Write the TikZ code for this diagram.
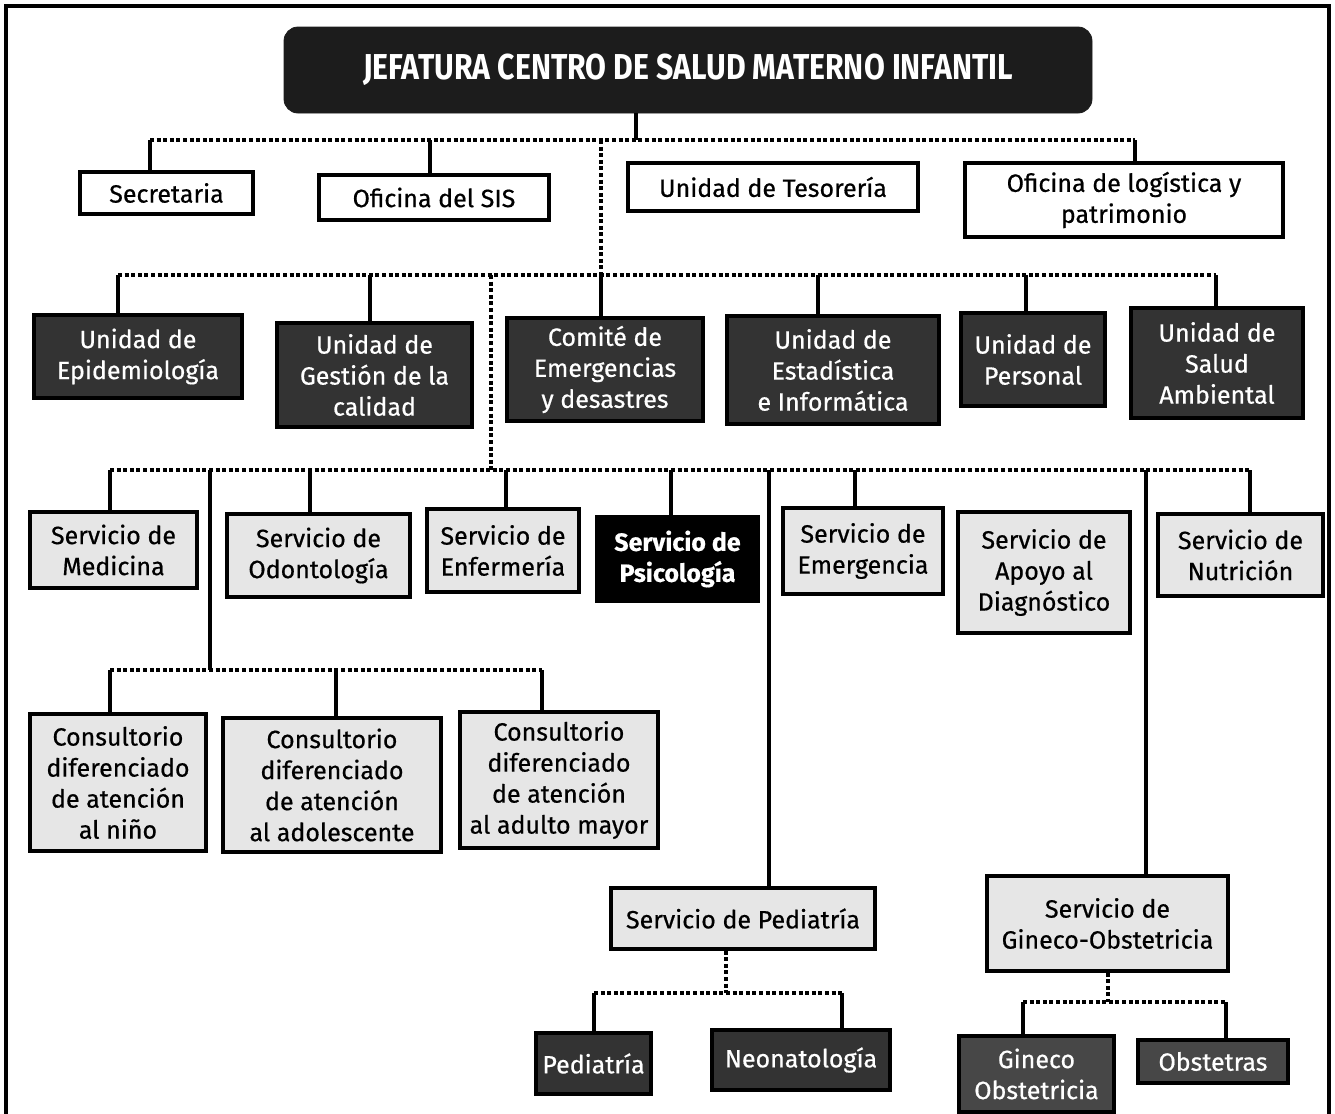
\documentclass[tikz,border=0pt]{standalone}
\usepackage{fontspec}
\setmainfont[FakeBold=0.6]{Fira Sans}
\newfontfamily\titlefont[FakeStretch=0.84]{Fira Sans Bold}
\definecolor{darkbox}{HTML}{333333}
\definecolor{darkbox2}{HTML}{474747}
\definecolor{titlebox}{HTML}{1C1C1C}
\definecolor{lightbox}{HTML}{E6E6E6}
\tikzset{
  base/.style={draw=black, line width=1.6pt, align=center, inner sep=0pt, font=\fontsize{12.5}{15.5}\selectfont},
  whitebox/.style={base, fill=white},
  darkb/.style={base, fill=darkbox, text=white},
  darkc/.style={base, fill=darkbox2, text=white},
  lightb/.style={base, fill=lightbox},
  blackb/.style={base, fill=black, text=white, font=\fontsize{12.5}{15.5}\selectfont\bfseries},
  titleb/.style={fill=titlebox, draw=titlebox, rounded corners=7pt, text=white, inner sep=0pt, font=\titlefont\fontsize{18}{20}\selectfont},
  conn/.style={line width=2pt},
  dotc/.style={line width=2pt, dash pattern=on 2pt off 1.3pt},
}
\newcommand\bx[7]{\node[#6, minimum width={(#4-#2)*0.5pt}, minimum height={(#5-#3)*0.5pt}] (#1) at ({(#2+#4)/2},{(#3+#5)/2}) {#7};}
\begin{document}
\begin{tikzpicture}[x=0.5pt,y=-0.5pt]
\useasboundingbox (0,0) rectangle (1335,1114);
\draw[line width=2pt] (6,1116) -- (6,6) -- (1329,6) -- (1329,1116);
% title
\bx{jef}{284}{27}{1092}{113}{titleb}{JEFATURA CENTRO DE SALUD MATERNO INFANTIL}
% row 1
\bx{secr}{80}{172}{253}{214}{whitebox}{Secretaria}
\bx{sis}{319}{175}{549}{220}{whitebox}{Oficina del SIS}
\bx{tes}{628}{163}{918}{211}{whitebox}{Unidad de Tesorería}
\bx{log}{965}{163}{1283}{237}{whitebox}{Oficina de logística y\\patrimonio}
% row 2
\bx{epi}{34}{315}{242}{398}{darkb}{Unidad de\\Epidemiología}
\bx{cal}{277}{323}{472}{427}{darkb}{Unidad de\\Gestión de la\\calidad}
\bx{com}{507}{318}{703}{421}{darkb}{Comité de\\Emergencias\\y desastres}
\bx{est}{727}{316}{939}{424}{darkb}{Unidad de\\Estadística\\e Informática}
\bx{per}{961}{313}{1105}{406}{darkb}{Unidad de\\Personal}
\bx{amb}{1131}{308}{1303}{418}{darkb}{Unidad de\\Salud\\Ambiental}
% row 3
\bx{med}{30}{512}{197}{588}{lightb}{Servicio de\\Medicina}
\bx{odo}{227}{514}{410}{597}{lightb}{Servicio de\\Odontología}
\bx{enf}{427}{509}{579}{592}{lightb}{Servicio de\\Enfermería}
\bx{psi}{597}{517}{758}{601}{blackb}{Servicio de\\Psicología}
\bx{eme}{783}{508}{943}{594}{lightb}{Servicio de\\Emergencia}
\bx{apo}{958}{512}{1130}{633}{lightb}{Servicio de\\Apoyo al\\Diagnóstico}
\bx{nut}{1158}{514}{1323}{596}{lightb}{Servicio de\\Nutrición}
% consultorios
\bx{nin}{30}{714}{206}{851}{lightb}{Consultorio\\diferenciado\\de atención\\al niño}
\bx{ado}{223}{718}{441}{852}{lightb}{Consultorio\\diferenciado\\de atención\\al adolescente}
\bx{adu}{460}{712}{658}{848}{lightb}{Consultorio\\diferenciado\\de atención\\al adulto mayor}
% pediatria
\bx{ped}{611}{888}{875}{949}{lightb}{Servicio de Pediatría}
\bx{pedi}{536}{1033}{651}{1094}{darkb}{Pediatría}
\bx{neo}{712}{1030}{890}{1090}{darkb}{Neonatología}
% gineco
\bx{gin}{987}{876}{1228}{971}{lightb}{Servicio de\\Gineco-Obstetricia}
\bx{gino}{959}{1036}{1114}{1112}{darkc}{Gineco\\Obstetricia}
\bx{obs}{1138}{1040}{1288}{1083}{darkc}{Obstetras}

% bus level 1
\coordinate (a0) at (636,140);
\coordinate (a1) at (150,140);
\coordinate (a2) at (430,140);
\coordinate (a3) at (601,140);
\coordinate (a4) at (1135,140);
\draw[conn] (jef.south -| a0) -- (a0);
\draw[dotc] (a1) -- (a4);
\draw[conn] (a1) -- (secr.north -| a1);
\draw[conn] (a2) -- (sis.north -| a2);
\draw[conn] (a4) -- (log.north -| a4);
% bus level 2
\coordinate (b0) at (601,275);
\coordinate (b1) at (118,275);
\coordinate (b2) at (370,275);
\coordinate (b3) at (818,275);
\coordinate (b4) at (1026,275);
\coordinate (b5) at (1216,275);
\coordinate (b6) at (491,275);
\draw[dotc] (a3) -- (b0);
\draw[dotc] (b1) -- (b5);
\draw[conn] (b1) -- (epi.north -| b1);
\draw[conn] (b2) -- (cal.north -| b2);
\draw[conn] (b0) -- (com.north -| b0);
\draw[conn] (b3) -- (est.north -| b3);
\draw[conn] (b4) -- (per.north -| b4);
\draw[conn] (b5) -- (amb.north -| b5);
% bus level 3
\coordinate (c0) at (491,470);
\coordinate (c1) at (110,470);
\coordinate (c2) at (210,470);
\coordinate (c3) at (310,470);
\coordinate (c4) at (506,470);
\coordinate (c5) at (671,470);
\coordinate (c6) at (769,470);
\coordinate (c7) at (855,470);
\coordinate (c8) at (1146,470);
\coordinate (c9) at (1250,470);
\draw[dotc] (b6) -- (c0);
\draw[dotc] (c1) -- (c9);
\draw[conn] (c1) -- (med.north -| c1);
\draw[conn] (c3) -- (odo.north -| c3);
\draw[conn] (c4) -- (enf.north -| c4);
\draw[conn] (c5) -- (psi.north -| c5);
\draw[conn] (c7) -- (eme.north -| c7);
\draw[conn] (c9) -- (nut.north -| c9);
\draw[conn] (c6) -- (ped.north -| c6);
\draw[conn] (c8) -- (gin.north -| c8);
% consultorios bus
\coordinate (d0) at (210,670);
\coordinate (d1) at (110,670);
\coordinate (d2) at (336,670);
\coordinate (d3) at (542,670);
\draw[conn] (c2) -- (d0);
\draw[dotc] (d1) -- (d3);
\draw[conn] (d1) -- (nin.north -| d1);
\draw[conn] (d2) -- (ado.north -| d2);
\draw[conn] (d3) -- (adu.north -| d3);
% pediatria bus
\coordinate (e0) at (726,993);
\coordinate (e1) at (594,993);
\coordinate (e2) at (842,993);
\draw[dotc] (ped.south -| e0) -- (e0);
\draw[dotc] (e1) -- (e2);
\draw[conn] (e1) -- (pedi.north -| e1);
\draw[conn] (e2) -- (neo.north -| e2);
% gineco bus
\coordinate (f0) at (1108,1002);
\coordinate (f1) at (1023,1002);
\coordinate (f2) at (1226,1002);
\draw[dotc] (gin.south -| f0) -- (f0);
\draw[dotc] (f1) -- (f2);
\draw[conn] (f1) -- (gino.north -| f1);
\draw[conn] (f2) -- (obs.north -| f2);
\end{tikzpicture}
\end{document}
